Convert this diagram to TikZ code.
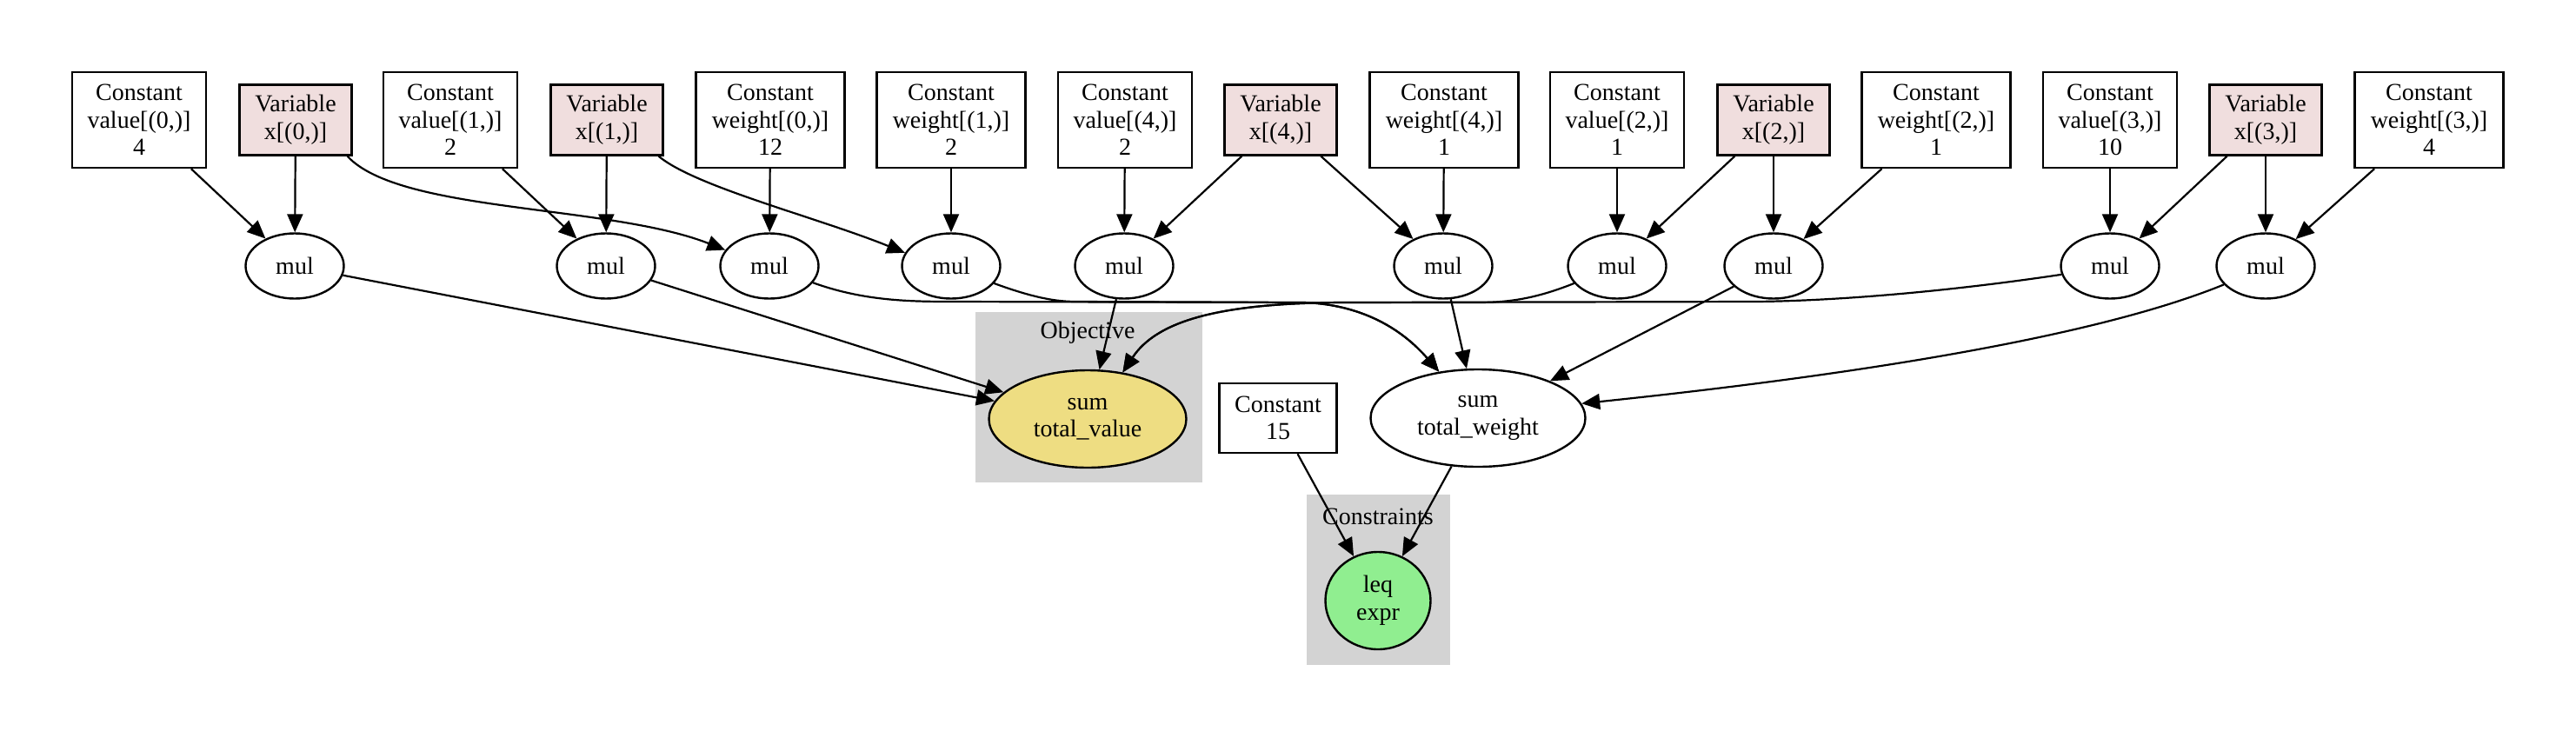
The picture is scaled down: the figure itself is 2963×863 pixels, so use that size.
\documentclass[tikz,border=0pt]{standalone}
\usepackage{fontspec}
\setmainfont{Liberation Serif}
\usetikzlibrary{arrows.meta,shapes.geometric}
\definecolor{varfill}{RGB}{240,222,222}
\definecolor{objfill}{RGB}{238,221,130}
\definecolor{confill}{RGB}{144,238,144}
\definecolor{clusterfill}{RGB}{211,211,211}

\begin{document}
\begin{tikzpicture}[x=0.5pt, y=-0.5pt,
    every node/.style={font=\fontsize{14}{15.8}\selectfont, align=center, inner sep=0pt, line width=1.2pt},
    constbox/.style={draw, rectangle, minimum width=77pt, minimum height=55pt},
    wconstbox/.style={constbox, minimum width=85.5pt},
    varbox/.style={draw, rectangle, fill=varfill, minimum width=64.5pt, minimum height=40.5pt},
    mulnode/.style={draw, ellipse, minimum width=56.5pt, minimum height=37.5pt},
    sumnode/.style={draw, ellipse, minimum height=56pt},
    edge/.style={-{Triangle[length=10.5pt,width=9pt]}, line width=1.1pt}]
    \useasboundingbox (0,0) rectangle (2963,863);

    \fill[clusterfill] (1122,359) rectangle (1383,555);
    \fill[clusterfill] (1503,569) rectangle (1668,765);
    \node (objlabel) at (1251,383) {Objective};
    \node (conlabel) at (1585,594) {Constraints};

    \foreach \n/\x/\t in {cv0/160/{value[(0,)]\\4}, cv1/518/{value[(1,)]\\2},
        cv4/1294/{value[(4,)]\\2}, cv2/1860/{value[(2,)]\\1}, cv3/2427/{value[(3,)]\\10}}
      \node[constbox] (\n) at (\x,138) {Constant\\\t};

    \foreach \n/\x/\t in {cw0/886/{weight[(0,)]\\12}, cw1/1094/{weight[(1,)]\\2},
        cw4/1661/{weight[(4,)]\\1}, cw2/2227/{weight[(2,)]\\1}, cw3/2794/{weight[(3,)]\\4}}
      \node[wconstbox] (\n) at (\x,138) {Constant\\\t};

    \foreach \n/\x/\t in {x0/340/{x[(0,)]}, x1/698/{x[(1,)]}, x4/1473/{x[(4,)]},
        x2/2040/{x[(2,)]}, x3/2606/{x[(3,)]}}
      \node[varbox] (\n) at (\x,138) {Variable\\\t};

    \foreach \n/\x in {mv0/339, mv1/697, mw0/885, mw1/1094, mv4/1293,
        mw4/1660, mv2/1860, mw2/2040, mv3/2427, mw3/2606}
      \node[mulnode] (\n) at (\x,306) {mul};

    \node[sumnode, fill=objfill, minimum width=113.5pt] (tv) at (1251,482) {sum\\total\_value};
    \node[sumnode, minimum width=123.5pt] (tw) at (1700,481) {sum\\total\_weight};
    \node[constbox, minimum width=67.5pt, minimum height=40pt] (c15) at (1470,481) {Constant\\15};
    \node[sumnode, fill=confill, minimum width=60.5pt] (leq) at (1585,691) {leq\\expr};

    \coordinate (jw) at (1500,348);
    \coordinate (jv) at (1550,348);

    \foreach \a/\b in {cv0/mv0, x0/mv0, cv1/mv1, x1/mv1, cw0/mw0, cw1/mw1,
        cv4/mv4, x4/mv4, x4/mw4, cw4/mw4, cv2/mv2, x2/mv2, x2/mw2, cw2/mw2,
        cv3/mv3, x3/mv3, x3/mw3, cw3/mw3,
        mv0/tv, mv1/tv, mv4/tv, mw4/tw, mw2/tw, c15/leq, tw/leq}
      \draw[edge] (\a) -- (\b);

    \draw[edge] (x0.-35) .. controls (460,245) and (700,235) .. (mw0.160);
    \draw[edge] (x1.-35) .. controls (800,215) and (940,250) .. (mw1.164);

    \draw[edge] (mw0.-21) .. controls (990,345) and (1040,347) .. (1091,347)
      -- (jw) .. controls (1555,350) and (1605,370) .. (tw.130);
    \draw[edge] (mw1.-22) .. controls (1190,343) and (1215,347) .. (1238,347)
      -- (jw) .. controls (1555,350) and (1605,370) .. (tw.130);
    \draw[edge] (mv2.202) .. controls (1770,342) and (1740,348) .. (1700,348)
      -- (jv) .. controls (1400,348) and (1330,370) .. (tv.53);
    \draw[edge] (mv3.190) .. controls (2250,334) and (2120,346) .. (2020,347)
      -- (jv) .. controls (1400,348) and (1330,370) .. (tv.53);
    \draw[edge] (mw3.204) .. controls (2400,392) and (2100,435) .. (tw.8);
\end{tikzpicture}
\end{document}
